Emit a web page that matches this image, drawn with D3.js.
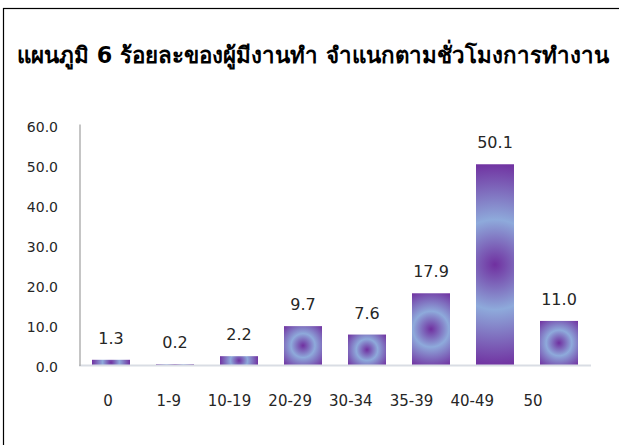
<!DOCTYPE html>
<html><head><meta charset="utf-8">
<script src="https://cdn.jsdelivr.net/npm/d3@7"></script>
<style>body{margin:0;background:#fff}svg{display:block}</style>
</head><body>
<svg id="c" width="619" height="445"></svg>
<script>
const title = "แผนภูมิ 6 ร้อยละของผู้มีงานทำ จำแนกตามชั่วโมงการทำงาน";
const categories = ["0","1-9","10-19","20-29","30-34","35-39","40-49","50"];
const values = [1.3, 0.2, 2.2, 9.7, 7.6, 17.9, 50.1, 11.0];
const yTicks = [0,10,20,30,40,50,60];

const svg = d3.select("#c");
const font = "Tahoma, 'Leelawadee UI', 'DejaVu Sans', 'Noto Sans', sans-serif";
svg.append("rect").attr("x",3.5).attr("y",8.5).attr("width",700).attr("height",600)
  .attr("fill","#fff").attr("stroke","#000").attr("stroke-width",1.2);

const t = svg.append("text").attr("x",17).attr("y",63).text(title)
  .attr("font-family",font).attr("font-weight","bold").attr("font-size",24)
  .attr("fill","#000");
const w = t.node().getComputedTextLength();
if (w > 0) t.attr("font-size", Math.min(26, 24*585/w));

const x = d3.scaleBand().domain(categories).range([79,591]).paddingInner(26/64).paddingOuter(13/64);
const xl = d3.scalePoint().domain(categories).range([108,533]);
const y = d3.scaleLinear().domain([0,60]).range([365,124.6]);

const defs = svg.append("defs");
categories.forEach((c,i)=>{
  const bx = x(c), bw = x.bandwidth(), by = y(values[i]), bh = y(0)-y(values[i]);
  const g = defs.append("radialGradient").attr("id","g"+i).attr("gradientUnits","userSpaceOnUse")
    .attr("cx",bx+bw/2).attr("cy",by+bh/2).attr("r",Math.sqrt(bw*bw+bh*bh)/2);
  g.append("stop").attr("offset",0).attr("stop-color","#7030A0");
  g.append("stop").attr("offset",0.44).attr("stop-color","#8EAADB");
  g.append("stop").attr("offset",1).attr("stop-color","#7030A0");
});

svg.append("g").selectAll("rect").data(values).join("rect")
  .attr("x",(d,i)=>x(categories[i])).attr("width",x.bandwidth())
  .attr("y",d=>y(d)).attr("height",d=>y(0)-y(d))
  .attr("fill",(d,i)=>`url(#g${i})`);

svg.append("line").attr("x1",79).attr("x2",591).attr("y1",365.5).attr("y2",365.5)
  .attr("stroke","#D9DDE4").attr("stroke-width",2);
svg.append("line").attr("x1",80).attr("x2",80).attr("y1",y(60)).attr("y2",366)
  .attr("stroke","#A6A6A6").attr("stroke-width",1.3);

const yAxis = d3.axisLeft(y).tickValues(yTicks).tickFormat(d3.format(".1f")).tickSize(0).tickPadding(0);
const ya = svg.append("g").attr("transform","translate(58,2)").call(yAxis);
ya.select(".domain").remove();
ya.selectAll("text").attr("font-family",font).attr("font-size",14).attr("fill","#262626");

svg.append("g").selectAll("text").data(categories).join("text")
  .attr("x",d=>xl(d)).attr("y",406).attr("text-anchor","middle")
  .attr("font-family",font).attr("font-size",15).attr("fill","#262626").text(d=>d);

svg.append("g").selectAll("text").data(values).join("text")
  .attr("x",(d,i)=>x(categories[i])+x.bandwidth()/2).attr("y",d=>y(d)-16)
  .attr("text-anchor","middle").attr("font-family",font).attr("font-size",16)
  .attr("fill","#262626").text(d=>d3.format(".1f")(d));
</script>
</body></html>
